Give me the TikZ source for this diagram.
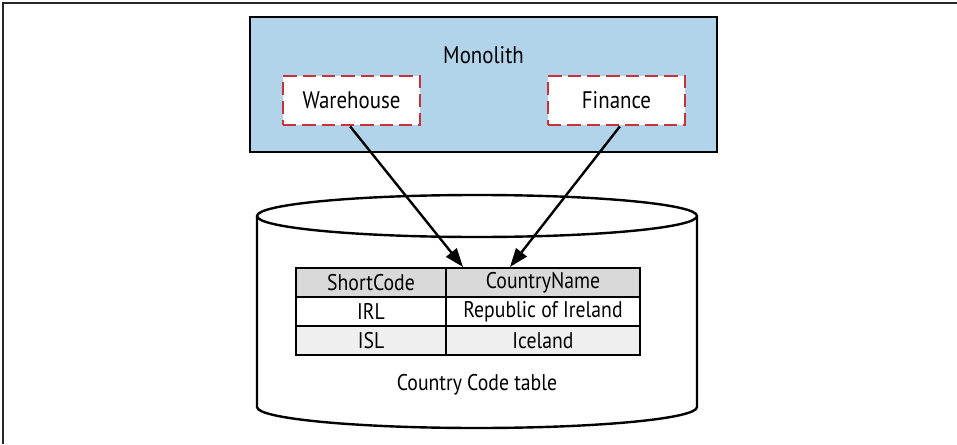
\documentclass[tikz,border=0pt]{standalone}
\usepackage{fontspec}
\setmainfont{PT Sans}[FakeStretch=0.87]
\usepackage{tikz}
\usetikzlibrary{arrows.meta}

\definecolor{monoblue}{HTML}{B2D4EA}
\definecolor{dashred}{HTML}{C8323C}
\definecolor{headgray}{HTML}{D9D9D9}
\definecolor{rowgray}{HTML}{EFEFEF}

\tikzset{
    frameline/.style={line width=1.5pt, black!85},
    module/.style={draw=dashred, dash pattern=on 10pt off 4.5pt, line width=2.2pt, fill=white,
        minimum width=102.75pt, minimum height=36.75pt, inner sep=0pt, font=\fontsize{18}{20}\selectfont},
    cell/.style={draw, line width=1.8pt, minimum height=21.75pt, inner sep=0pt,
        font=\fontsize{17}{19}\selectfont},
    shortcol/.style={cell, minimum width=112.5pt},
    namecol/.style={cell, minimum width=145.5pt},
    uses/.style={-{Triangle[length=14pt, width=10pt]}, line width=1.8pt}
}

\begin{document}
\begin{tikzpicture}[x=0.75pt, y=0.75pt]

    % ==========================================
    % Page size and outer frame (top and left only)
    % ==========================================
    \useasboundingbox (0,0) rectangle (957,444);
    \draw[frameline] (3,0) -- (3,441) -- (957,441);

    % ==========================================
    % Monolith with its two modules
    % ==========================================
    \draw[fill=monoblue, line width=1.9pt] (250,292) rectangle (717,427);
    \node[font=\fontsize{18}{20}\selectfont] (mono) at (483.5,389) {Monolith};

    \node[module] (warehouse) at (351.5,343.5) {Warehouse};
    \node[module] (finance) at (616.5,343.5) {Finance};

    % ==========================================
    % Database cylinder
    % ==========================================
    \draw[line width=1.8pt, fill=white] (257,228) -- (257,37)
        arc[start angle=180, end angle=360, x radius=220, y radius=21] -- (697,228);
    \draw[line width=1.8pt] (477,228) ellipse[x radius=220, y radius=21];

    % Table inside the cylinder
    \node[shortcol, fill=headgray] (sc) at (371,161.5) {ShortCode};
    \node[namecol, fill=headgray] (cn) at (543,161.5) {CountryName};
    \node[shortcol, fill=white] (irl) at (371,132.5) {IRL};
    \node[namecol, fill=white] (ire) at (543,132.5) {Republic of Ireland};
    \node[shortcol, fill=rowgray] (isl) at (371,103.5) {ISL};
    \node[namecol, fill=rowgray] (ice) at (543,103.5) {Iceland};

    \node[font=\fontsize{17}{19}\selectfont] (tbl) at (477,59) {Country Code table};

    % ==========================================
    % Both modules read the same table
    % ==========================================
    \coordinate (tipA) at (463,177);
    \coordinate (tipB) at (510,177);
    \draw[uses] ([xshift=-1pt]warehouse.south) -- (tipA);
    \draw[uses] ([xshift=2.5pt]finance.south) -- (tipB);

\end{tikzpicture}
\end{document}
